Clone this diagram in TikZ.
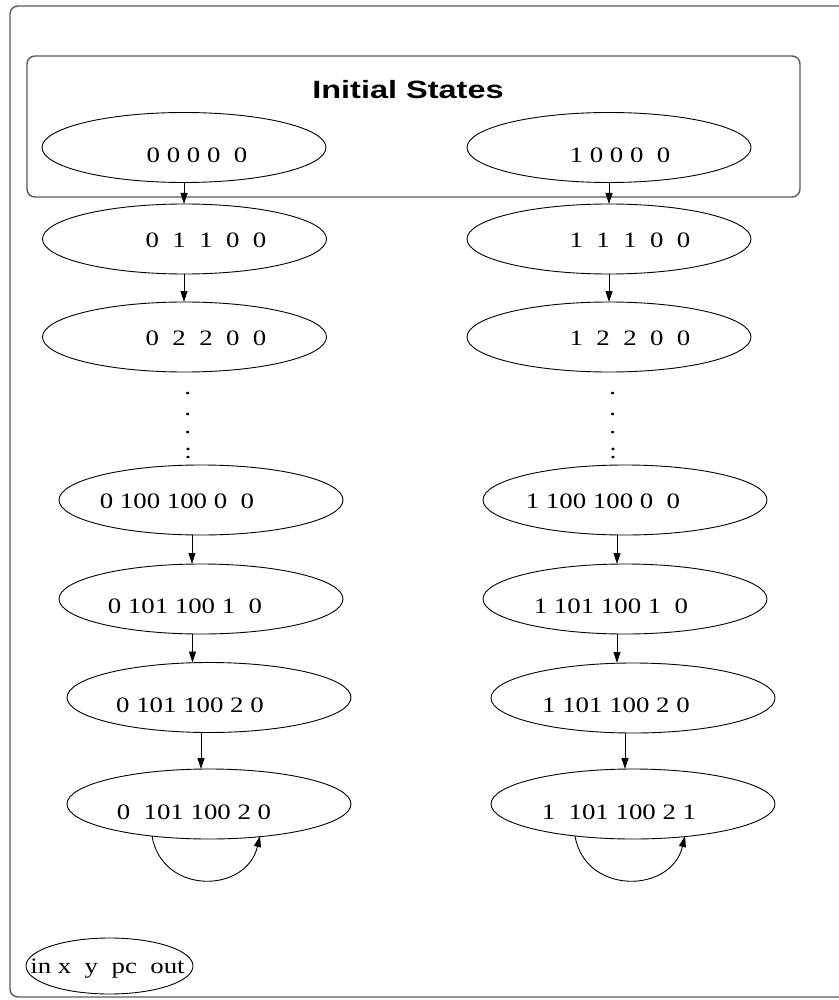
\documentclass[tikz,border=0pt]{standalone}
\usepackage{fontspec}
\usetikzlibrary{arrows.meta,shapes.geometric}
\newfontfamily\statefont[FakeStretch=1.22]{Liberation Serif}
\newfontfamily\titlefont[FakeStretch=1.3]{Liberation Sans Bold}

\tikzset{
  state/.style={draw=black, line width=0.9pt, ellipse, minimum width=284pt,
    minimum height=70pt, inner sep=0pt, outer sep=0pt},
  legendnode/.style={state, minimum width=167pt, minimum height=56pt},
  lbl/.style={anchor=base, inner sep=0pt, outer sep=0pt,
    font=\statefont\fontsize{22pt}{22pt}\selectfont},
  titlelbl/.style={anchor=base, inner sep=0pt,
    font=\titlefont\fontsize{25pt}{25pt}\selectfont},
  edge/.style={draw=black, line width=0.9pt, -{Triangle[length=11pt,width=7pt]}},
  frame/.style={draw=black!65, line width=1.4pt, rounded corners=8pt},
}
% vertical ellipsis: three raised periods over a colon
\newcommand{\vdotsstack}{\rlap{\raisebox{64pt}{.}}\rlap{\raisebox{43pt}{.}}\rlap{\raisebox{25pt}{.}}:}

\begin{document}
\begin{tikzpicture}[x=1pt,y=-1pt]
\useasboundingbox (0,0) rectangle (838,1000);

% outer frame (runs past the right margin) and the cluster of initial states
\draw[frame] (10,6) rectangle (880,997);
\draw[frame] (27,56) rectangle (800,197);
\node[titlelbl] (title) at (408,98.3) {Initial States};

% left chain (in = 0)
\node[state] (a0) at (184,147.5) {};
\node[lbl] (a0t) at (197,163) {0 0 0 0~~0};
\node[state] (a1) at (184.5,239) {};
\node[lbl] (a1t) at (206,247.3) {0~~1~~1~~0~~0};
\node[state] (a2) at (184.5,337) {};
\node[lbl] (a2t) at (206,345) {0~~2~~2~~0~~0};
\node[lbl] (adots) at (188,458.5) {\vdotsstack};
\node[state] (a3) at (201,500) {};
\node[lbl] (a3t) at (177,508.3) {0 100 100 0~~0};
\node[state] (a4) at (201,599) {};
\node[lbl] (a4t) at (185,613.3) {0 101 100 1~~0};
\node[state] (a5) at (209,697.5) {};
\node[lbl] (a5t) at (190,712) {0 101 100 2 0};
\node[state] (a6) at (209,804) {};
\node[lbl] (a6t) at (194,819.3) {0~~101 100 2 0};

% right chain (in = 1)
\node[state] (b0) at (609,147.5) {};
\node[lbl] (b0t) at (620,163) {1 0 0 0~~0};
\node[state] (b1) at (609,239) {};
\node[lbl] (b1t) at (630,247.3) {1~~1~~1~~0~~0};
\node[state] (b2) at (609,337) {};
\node[lbl] (b2t) at (630,345) {1~~2~~2~~0~~0};
\node[lbl] (bdots) at (613,458.5) {\vdotsstack};
\node[state] (b3) at (625,500) {};
\node[lbl] (b3t) at (603,508.3) {1 100 100 0~~0};
\node[state] (b4) at (625,599) {};
\node[lbl] (b4t) at (611,613.3) {1 101 100 1~~0};
\node[state] (b5) at (633,698) {};
\node[lbl] (b5t) at (616,712) {1 101 100 2 0};
\node[state] (b6) at (633,804) {};
\node[lbl] (b6t) at (619,819.3) {1~~101 100 2 1};

% legend
\node[legendnode] (key) at (109.5,966) {};
\node[lbl] (keyt) at (107.5,973.5) {in x~~y~~pc~~out};

% transitions
\draw[edge] (a0.south) -- ([xshift=-0.5pt]a1.north);
\draw[edge] ([xshift=-0.5pt]a1.south) -- ([xshift=-0.5pt]a2.north);
\draw[edge] ([xshift=-9pt]a3.south) -- ([xshift=-9pt]a4.north);
\draw[edge] ([xshift=-8.5pt]a4.south) -- ([xshift=-16.5pt]a5.north);
\draw[edge] ([xshift=-8pt]a5.south) -- ([xshift=-8pt]a6.north);
\draw[edge] ([xshift=-57pt,yshift=3pt]a6.south)
  .. controls +(10,59) and +(-14,58) .. ([xshift=51pt,yshift=3pt]a6.south);

\draw[edge] (b0.south) -- (b1.north);
\draw[edge] (b1.south) -- (b2.north);
\draw[edge] ([xshift=-8pt]b3.south) -- ([xshift=-8pt]b4.north);
\draw[edge] ([xshift=-8pt]b4.south) -- ([xshift=-16pt]b5.north);
\draw[edge] ([xshift=-8pt]b5.south) -- ([xshift=-8pt]b6.north);
\draw[edge] ([xshift=-58pt,yshift=3pt]b6.south)
  .. controls +(10,59) and +(-14,58) .. ([xshift=52pt,yshift=3pt]b6.south);
\end{tikzpicture}
\end{document}
